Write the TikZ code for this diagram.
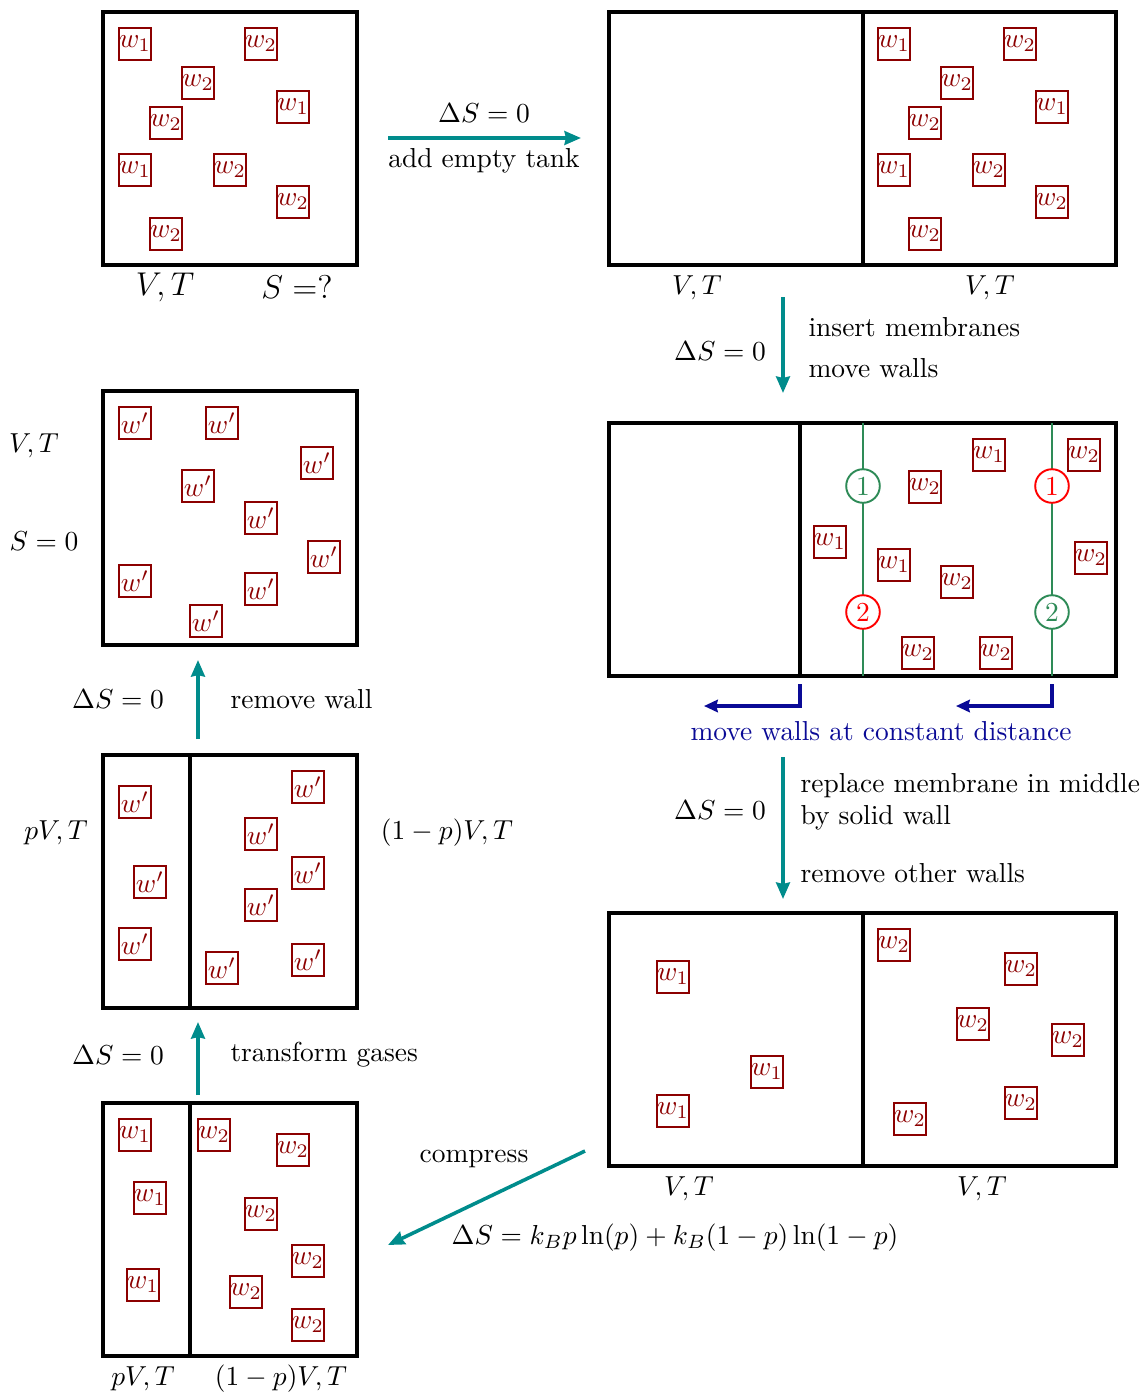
\documentclass[tikz,border=0pt]{standalone}
\usetikzlibrary{arrows.meta}
\definecolor{wred}{RGB}{140,0,0}
\definecolor{steprteal}{RGB}{0,140,140}
\definecolor{wallblue}{RGB}{10,10,150}
\definecolor{memgreen}{RGB}{46,139,87}
\begin{document}
\begin{tikzpicture}[x=0.0128cm,y=-0.0128cm,
  tank/.style={line width=1.4pt},
  mol/.style={draw=wred, text=wred, line width=0.7pt, minimum size=0.41cm, inner sep=0pt},
  proc/.style={draw=steprteal, line width=1.3pt, -{Stealth[inset=0.5pt, length=6pt, width=5pt]}},
  shift arrow/.style={draw=wallblue, line width=1.3pt, -{Stealth[inset=0.5pt, length=5pt, width=4.5pt]}},
  membrane/.style={memgreen, line width=0.7pt},
  gate/.style={circle, draw, fill=white, line width=0.7pt, minimum size=0.43cm, inner sep=0pt},
  note/.style={anchor=west, inner sep=0pt}]
\useasboundingbox (0,0) rectangle (1144,1394);

% tank at start
\draw[tank] (103,12) rectangle (357,265);
\foreach \x/\y/\t in {135/44/w_1, 261/44/w_2, 198/83/w_2, 293/107/w_1, 166/123/w_2,
    135/170/w_1, 230/170/w_2, 293/202/w_2, 166/234/w_2}
  \node[mol] at (\x,\y) {$\t$};
\node[font=\large] (vt1) at (165,287) {$V,T$};
\node[font=\large] (s1) at (297,287) {$S=?$};

\coordinate (a1s) at (388,138);
\coordinate (a1e) at (581,138);
\draw[proc] (a1s) -- (a1e);
\node (ds1) at (484,113) {$\Delta S = 0$};
\node (add) at (484,161) {add empty tank};

% empty tank added
\draw[tank] (609,12) rectangle (1116,265);
\draw[tank] (863,12) -- (863,265);
\foreach \x/\y/\t in {135/44/w_1, 261/44/w_2, 198/83/w_2, 293/107/w_1, 166/123/w_2,
    135/170/w_1, 230/170/w_2, 293/202/w_2, 166/234/w_2}
  \node[mol] at (\x+759,\y) {$\t$};
\node (vt2a) at (697,288) {$V,T$};
\node (vt2b) at (990,288) {$V,T$};

\coordinate (a2s) at (783,297);
\coordinate (a2e) at (783,393);
\draw[proc] (a2s) -- (a2e);
\node (ds2) at (720,351) {$\Delta S = 0$};
\node[note] (ins) at (808,327) {insert membranes};
\node[note] (mov) at (808,368) {move walls};

% membranes
\draw[tank] (609,423) rectangle (1116,676);
\draw[tank] (800,423) -- (800,676);
\draw[membrane] (863,423) -- (863,676);
\draw[membrane] (1052,423) -- (1052,676);
\foreach \x/\y/\t in {989/455/w_1, 1084/455/w_2, 925/487/w_2, 830/542/w_1, 894/565/w_1,
    1091/558/w_2, 957/582/w_2, 918/653/w_2, 996/653/w_2}
  \node[mol] at (\x,\y) {$\t$};
\node[gate, draw=memgreen, text=memgreen] (g1a) at (863,486) {1};
\node[gate, draw=red, text=red] (g2a) at (863,612) {2};
\node[gate, draw=red, text=red] (g1b) at (1052,486) {1};
\node[gate, draw=memgreen, text=memgreen] (g2b) at (1052,612) {2};

\coordinate (w1s) at (800,684);
\coordinate (w1e) at (704,706);
\coordinate (w2s) at (1052,684);
\coordinate (w2e) at (956,706);
\draw[shift arrow] (w1s) |- (w1e);
\draw[shift arrow] (w2s) |- (w2e);
\node[text=wallblue] (mvw) at (881,731) {move walls at constant distance};

\coordinate (a3s) at (783,757);
\coordinate (a3e) at (783,899);
\draw[proc] (a3s) -- (a3e);
\node (ds3) at (720,810) {$\Delta S = 0$};
\node[note] (rep) at (800,786) {replace membrane in middle};
\node[note] (sol) at (800,818) {by solid wall};
\node[note] (rem) at (800,873) {remove other walls};

% separated gases
\draw[tank] (609,913) rectangle (1116,1166);
\draw[tank] (863,913) -- (863,1166);
\foreach \x/\y/\t in {673/977/w_1, 767/1072/w_1, 673/1111/w_1, 894/945/w_2, 1021/969/w_2,
    973/1024/w_2, 1068/1040/w_2, 1021/1103/w_2, 910/1119/w_2}
  \node[mol] at (\x,\y) {$\t$};
\node (vt4a) at (689,1189) {$V,T$};
\node (vt4b) at (982,1189) {$V,T$};

\coordinate (a4s) at (585,1151);
\coordinate (a4e) at (388,1245);
\draw[proc] (a4s) -- (a4e);
\node (cmp) at (474,1159) {compress};
\node (ds4) at (675,1238) {$\Delta S = k_B p \ln(p) + k_B (1-p)\ln(1-p)$};

% compressed gases
\draw[tank] (103,1103) rectangle (357,1356);
\draw[tank] (190,1103) -- (190,1356);
\foreach \x/\y/\t in {135/1135/w_1, 150/1198/w_1, 143/1285/w_1, 214/1135/w_2, 293/1150/w_2,
    261/1214/w_2, 308/1261/w_2, 246/1292/w_2, 308/1325/w_2}
  \node[mol] at (\x,\y) {$\t$};
\node (vt5a) at (143,1379) {$pV,T$};
\node (vt5b) at (281,1379) {$(1-p)V,T$};

\coordinate (a5s) at (198,1095);
\coordinate (a5e) at (198,1022);
\draw[proc] (a5s) -- (a5e);
\node (ds5) at (118,1055) {$\Delta S = 0$};
\node[note] (trf) at (230,1055) {transform gases};

% transformed gases
\draw[tank] (103,755) rectangle (357,1008);
\draw[tank] (190,755) -- (190,1008);
\foreach \x/\y in {135/802, 150/882, 135/944, 308/787, 261/834, 308/873, 261/905,
    222/968, 308/960}
  \node[mol] at (\x,\y) {$w'$};
\node (vt6a) at (56,833) {$pV,T$};
\node (vt6b) at (447,833) {$(1-p)V,T$};

\coordinate (a6s) at (198,739);
\coordinate (a6e) at (198,660);
\draw[proc] (a6s) -- (a6e);
\node (ds6) at (118,699) {$\Delta S = 0$};
\node[note] (rmw) at (230,699) {remove wall};

% final tank
\draw[tank] (103,391) rectangle (357,645);
\foreach \x/\y in {135/423, 222/423, 317/463, 198/486, 261/518, 324/557, 135/581,
    261/589, 206/621}
  \node[mol] at (\x,\y) {$w'$};
\node (vt7) at (34,446) {$V,T$};
\node (s7) at (44,541) {$S=0$};
\end{tikzpicture}
\end{document}
